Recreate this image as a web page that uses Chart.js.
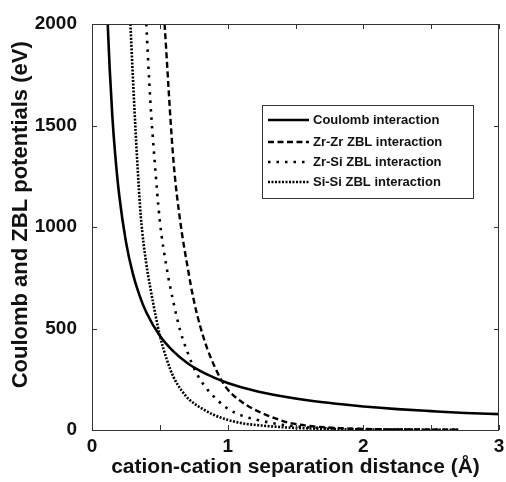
<!DOCTYPE html>
<html>
<head>
<meta charset="utf-8">
<script src="https://cdn.jsdelivr.net/npm/chart.js@4.4.1/dist/chart.umd.min.js"></script>
<style>
  html, body { margin: 0; padding: 0; background: #fff; }
  #wrap { width: 506px; height: 482px; position: relative; }
</style>
</head>
<body>
<div id="wrap"><canvas id="chart" width="506" height="482"></canvas></div>
<script>
// ---- data (r in Å, V in eV) ----
var coulombR = [0.116, 0.13, 0.15, 0.17, 0.2, 0.25, 0.3, 0.35, 0.4, 0.5, 0.6, 0.7, 0.8, 0.9, 1.0, 1.2, 1.4, 1.6, 1.8, 2.0, 2.25, 2.5, 2.75, 3.0];
var coulombV = [2000, 1785, 1545, 1365, 1160, 928, 773, 663, 580, 464, 387, 331, 290, 258, 232, 193, 166, 145, 129, 116, 103, 93, 84, 78];

var zrzrR = [0.535, 0.6, 0.65, 0.7, 0.75, 0.8, 0.85, 0.9, 0.95, 1.0, 1.1, 1.2, 1.3, 1.45, 1.6, 1.8, 2.0, 2.2, 2.45, 2.7];
var zrzrV = [2000, 1330, 1030, 820, 640, 505, 400, 318, 250, 200, 140, 100, 70, 36, 20, 10, 5, 3, 2, 1];

var zrsiR = [0.40, 0.43, 0.46, 0.5, 0.55, 0.6, 0.65, 0.7, 0.77, 0.85, 0.92, 1.0, 1.1, 1.25, 1.4, 1.55, 1.75, 2.0, 2.3, 2.7];
var zrsiV = [2000, 1620, 1340, 1030, 800, 630, 490, 390, 280, 200, 150, 105, 72, 45, 26, 15, 8, 4, 2, 1];

var sisiR = [0.283, 0.31, 0.333, 0.36, 0.4, 0.43, 0.47, 0.5, 0.55, 0.6, 0.66, 0.72, 0.8, 0.9, 1.0, 1.1, 1.25, 1.45, 1.7, 2.0, 2.35, 2.7];
var sisiV = [2000, 1620, 1330, 1050, 820, 700, 560, 465, 350, 262, 195, 148, 110, 74, 50, 34, 22, 12, 6, 3, 2, 1];

var seriesLabels = ['Coulomb interaction', 'Zr-Zr ZBL interaction', 'Zr-Si ZBL interaction', 'Si-Si ZBL interaction'];
var xTicks = [0, 0.5, 1, 1.5, 2, 2.5, 3];
var yTicks = [0, 500, 1000, 1500, 2000];

var FONT = '"Liberation Sans", Arial, Helvetica, sans-serif';

function pts(xs, ys) { return xs.map(function(x, i) { return { x: x, y: ys[i] }; }); }

function line(label, xs, ys, dash, width) {
  return {
    label: label, data: pts(xs, ys), showLine: true,
    borderColor: '#000', backgroundColor: '#000', borderWidth: width,
    borderDash: dash, pointRadius: 0, cubicInterpolationMode: 'monotone', fill: false
  };
}

// 框线 + 内向刻度
var boxPlugin = {
  id: 'box',
  afterDatasetsDraw: function(chart) {
    var ctx = chart.ctx, a = chart.chartArea, sx = chart.scales.x, sy = chart.scales.y;
    ctx.save();
    ctx.strokeStyle = '#333'; ctx.lineWidth = 1; ctx.setLineDash([]);
    ctx.strokeRect(a.left + 0.5, a.top + 0.5, a.right - a.left - 1, a.bottom - a.top);
    ctx.beginPath();
    xTicks.forEach(function(v) {
      var p = Math.round(sx.getPixelForValue(v)) + 0.5;
      ctx.moveTo(p, a.bottom); ctx.lineTo(p, a.bottom - 5);
      ctx.moveTo(p, a.top); ctx.lineTo(p, a.top + 5);
    });
    yTicks.forEach(function(v) {
      var p = Math.round(sy.getPixelForValue(v)) + 0.5;
      ctx.moveTo(a.left, p); ctx.lineTo(a.left + 5, p);
      ctx.moveTo(a.right, p); ctx.lineTo(a.right - 5, p);
    });
    ctx.stroke();
    ctx.restore();
  }
};

// 图例（框内）
var legendPlugin = {
  id: 'boxLegend',
  afterDraw: function(chart) {
    var ctx = chart.ctx;
    var bx = 262, by = 105, bw = 211, bh = 93;
    ctx.save();
    ctx.fillStyle = '#fff'; ctx.fillRect(bx, by, bw, bh);
    ctx.strokeStyle = '#333'; ctx.lineWidth = 1; ctx.setLineDash([]);
    ctx.strokeRect(bx + 0.5, by + 0.5, bw, bh);
    ctx.font = 'bold 13px ' + FONT;
    ctx.textBaseline = 'middle';
    ctx.fillStyle = '#111';
    var rows = [120, 142, 162, 182];
    chart.data.datasets.forEach(function(ds, i) {
      ctx.strokeStyle = '#000';
      ctx.lineWidth = ds.borderWidth;
      ctx.setLineDash(ds.borderDash || []);
      ctx.beginPath(); ctx.moveTo(268, rows[i]); ctx.lineTo(309, rows[i]); ctx.stroke();
      ctx.fillText(ds.label, 313, rows[i]);
    });
    ctx.restore();
  }
};

new Chart(document.getElementById('chart'), {
  type: 'scatter',
  data: {
    datasets: [
      line(seriesLabels[0], coulombR, coulombV, [], 2.6),
      line(seriesLabels[1], zrzrR, zrzrV, [6, 3.5], 2.4),
      line(seriesLabels[2], zrsiR, zrsiV, [2.5, 6], 2.6),
      line(seriesLabels[3], sisiR, sisiV, [2, 1.5], 2.6)
    ]
  },
  options: {
    responsive: false, animation: false,
    layout: { padding: { top: 24, right: 7, left: 8, bottom: 0 } },
    plugins: { legend: { display: false }, tooltip: { enabled: false } },
    scales: {
      x: {
        type: 'linear', min: 0, max: 3,
        afterBuildTicks: function(s) { s.ticks = xTicks.map(function(v) { return { value: v }; }); },
        afterFit: function(s) { s.height = 52; },
        grid: { display: false }, border: { display: false },
        ticks: {
          color: '#111', padding: -3, maxRotation: 0, autoSkip: false,
          font: { family: FONT, size: 19, weight: 'bold' },
          callback: function(v) { return Number.isInteger(v) ? String(v) : ''; }
        },
        title: {
          display: true, text: 'cation-cation separation distance (Å)', color: '#111',
          font: { family: FONT, size: 21, weight: 'bold' }, padding: { top: 0, bottom: 2 }
        }
      },
      y: {
        type: 'linear', min: 0, max: 2000,
        afterBuildTicks: function(s) { s.ticks = yTicks.map(function(v) { return { value: v }; }); },
        afterFit: function(s) { s.width = 84; },
        grid: { display: false }, border: { display: false },
        ticks: {
          color: '#111', padding: 7, autoSkip: false,
          font: { family: FONT, size: 19, weight: 'bold' },
          callback: function(v) { return String(v); }
        },
        title: {
          display: true, text: '\u00a0\u00a0\u00a0\u00a0Coulomb and ZBL potentials (eV)', color: '#111',
          font: { family: FONT, size: 22, weight: 'bold' }, padding: { top: 0, bottom: 0 }
        }
      }
    }
  },
  plugins: [boxPlugin, legendPlugin]
});
</script>
</body>
</html>
